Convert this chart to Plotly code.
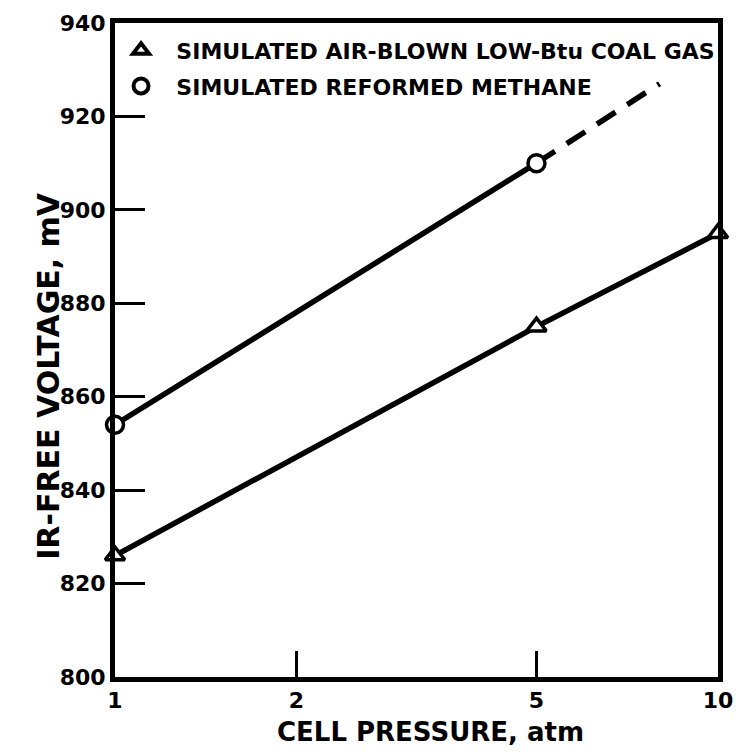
import plotly.graph_objects as go

# Cell pressure (atm) and IR-free voltage (mV)
coal_gas_pressure = [1, 5, 10]
coal_gas_voltage = [826, 875, 895]

methane_pressure = [1, 5]
methane_voltage = [854, 910]

# extrapolated portion of the reformed-methane line (dashed)
methane_ext_pressure = [5, 8]
methane_ext_voltage = [910, 927]

x_ticks = [1, 2, 5, 10]
x_tick_text = ["1", "2", "5", "10"]
y_ticks = [800, 820, 840, 860, 880, 900, 920, 940]

coal_label = "SIMULATED AIR-BLOWN LOW-Btu COAL GAS"
methane_label = "SIMULATED REFORMED METHANE"

FONT = "DejaVu Sans"
INK = "black"
PAD = "\u00a0\u00a0"  # extra gap between legend symbol and text

fig = go.Figure()

fig.add_trace(go.Scatter(
    x=methane_ext_pressure, y=methane_ext_voltage, mode="lines",
    line=dict(color=INK, width=5.5, dash="22px,14px"),
    showlegend=False, cliponaxis=False, hoverinfo="skip",
))
fig.add_trace(go.Scatter(
    x=methane_pressure, y=methane_voltage, mode="lines+markers",
    line=dict(color=INK, width=5.5),
    marker=dict(symbol="circle", size=17, color="white",
                line=dict(color=INK, width=3.5)),
    showlegend=False, cliponaxis=False,
))
fig.add_trace(go.Scatter(
    x=coal_gas_pressure, y=coal_gas_voltage, mode="lines+markers",
    line=dict(color=INK, width=5.5),
    marker=dict(symbol="triangle-up", size=17, color="white",
                line=dict(color=INK, width=3.5)),
    showlegend=False, cliponaxis=False,
))

# legend entries (symbol only)
fig.add_trace(go.Scatter(
    x=[None], y=[None], mode="markers", name=PAD + coal_label, legendgroup="a",
    marker=dict(symbol="triangle-up", size=14, color="white",
                line=dict(color=INK, width=4)),
))
fig.add_trace(go.Scatter(
    x=[None], y=[None], mode="markers", name=PAD + methane_label, legendgroup="b",
    marker=dict(symbol="circle", size=15, color="white",
                line=dict(color=INK, width=4)),
))

axis_common = dict(
    showgrid=False, zeroline=False, showline=True, linecolor=INK,
    linewidth=5, mirror=True, ticks="inside", tickcolor=INK, tickwidth=3,
    tickfont=dict(family=FONT, size=22, color=INK, weight="bold"),
)

fig.update_xaxes(
    type="log", range=[0, 1], tickvals=x_ticks, ticktext=x_tick_text,
    ticklen=26, **axis_common,
)
fig.update_yaxes(
    range=[800, 940], tickvals=y_ticks, ticklen=30, **axis_common,
)

fig.add_annotation(
    text="IR-FREE VOLTAGE, mV", textangle=-90, xref="paper", yref="paper",
    x=-0.1424, y=0.46, showarrow=False,
    font=dict(family=FONT, size=30, color=INK, weight="bold"),
)
fig.add_annotation(
    text="CELL PRESSURE, atm", xref="paper", yref="paper",
    x=0.524, y=-0.0847, yanchor="middle", showarrow=False,
    font=dict(family=FONT, size=26, color=INK, weight="bold"),
)

fig.update_layout(
    width=744, height=755,
    margin=dict(l=115, r=11, t=16, b=78),
    paper_bgcolor="white", plot_bgcolor="white",
    legend=dict(
        x=0.01, y=0.99, xanchor="left", yanchor="top",
        bgcolor="rgba(0,0,0,0)", tracegroupgap=4,
        font=dict(family=FONT, size=22, color=INK, weight="bold"),
    ),
)

fig.write_html("out.html")
